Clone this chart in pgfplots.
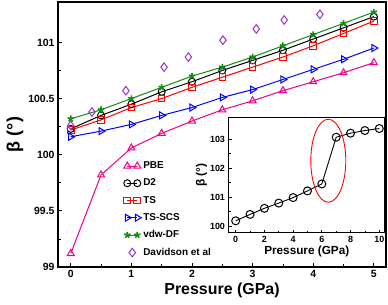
\documentclass[border=0pt]{standalone}
\usepackage{fontspec}
\setmainfont{Liberation Sans}
\usepackage{pgfplots}
\pgfplotsset{compat=1.18}
\definecolor{dvio}{RGB}{150,50,210}
\definecolor{dgreen}{RGB}{20,140,20}
\begin{document}
\begin{tikzpicture}
\path[use as bounding box] (-58bp,-38bp) rectangle (330bp,267bp);
\begin{axis}[
  at={(0,0)}, anchor=south west, scale only axis,
  width=328bp, height=265bp,
  xmin=-0.21, xmax=5.2, ymin=99, ymax=101.36,
  xtick={0,1,2,3,4,5}, ytick={99,99.5,100,100.5,101},
  minor x tick num=1, minor y tick num=1,
  tick align=inside, xtick pos=bottom, ytick pos=left,
  major tick length=4bp, minor tick length=2.5bp,
  axis line style={line width=1.4bp},
  every tick/.style={line width=0.8bp, black},
  /pgf/number format/assume math mode=true,
  tick label style={font=\bfseries\fontsize{10.5}{12}\selectfont},
  xlabel={Pressure (GPa)},
  xlabel style={font=\bfseries\fontsize{16}{18}\selectfont, yshift=2bp},
  ylabel={β (°)},
  ylabel style={font=\bfseries\fontsize{18}{20}\selectfont, yshift=-2bp},
  legend style={draw=none, fill=none, at={(0.2,0.405)}, anchor=north west,
     font=\bfseries\fontsize{10}{12}\selectfont, row sep=4.8bp, inner sep=0pt},
  legend cell align=left,
]
\addplot[magenta, line width=1bp, mark=triangle, mark size=4bp, mark options={solid, line width=1bp},
  legend image code/.code={\draw[mark repeat=2,mark phase=1] plot coordinates {(0bp,0bp)(5bp,0bp)(10bp,0bp)};}]
coordinates {(0,99.12)(0.5,99.82)(1,100.06)(1.5,100.19)(2,100.30)(2.5,100.40)(3,100.48)(3.5,100.57)(4,100.65)(4.5,100.73)(5,100.82)};
\addlegendentry{PBE}
\addplot[black, line width=1bp, mark=o, mark size=3.5bp, mark options={solid, line width=1bp},
  legend image code/.code={\draw[mark repeat=2,mark phase=1] plot coordinates {(0bp,0bp)(5bp,0bp)(10bp,0bp)};}]
coordinates {(0,100.23)(0.5,100.35)(1,100.45)(1.5,100.56)(2,100.65)(2.5,100.75)(3,100.84)(3.5,100.93)(4,101.03)(4.5,101.13)(5,101.23)};
\addlegendentry{D2}
\addplot[red, line width=1bp, mark=square, mark size=3.3bp, mark options={solid, line width=1bp},
  legend image code/.code={\draw[mark repeat=2,mark phase=1] plot coordinates {(0bp,0bp)(5bp,0bp)(10bp,0bp)};}]
coordinates {(0,100.22)(0.5,100.31)(1,100.42)(1.5,100.50)(2,100.60)(2.5,100.69)(3,100.78)(3.5,100.87)(4,100.97)(4.5,101.08)(5,101.19)};
\addlegendentry{TS}
\addplot[blue, line width=1bp, mark=triangle, mark size=4bp, mark options={solid, line width=1bp, rotate=-90},
  legend image code/.code={\draw[mark repeat=2,mark phase=1] plot coordinates {(0bp,0bp)(5bp,0bp)(10bp,0bp)};}]
coordinates {(0,100.16)(0.5,100.21)(1,100.27)(1.5,100.35)(2,100.42)(2.5,100.51)(3,100.58)(3.5,100.67)(4,100.76)(4.5,100.85)(5,100.95)};
\addlegendentry{TS-SCS}
\addplot[dgreen, line width=1bp, mark=star, mark size=3.3bp, mark options={solid, line width=1.6bp},
  legend image code/.code={\draw[mark repeat=2,mark phase=1] plot coordinates {(0bp,0bp)(5bp,0bp)(10bp,0bp)};}]
coordinates {(0,100.32)(0.5,100.40)(1,100.50)(1.5,100.60)(2,100.70)(2.5,100.78)(3,100.87)(3.5,100.97)(4,101.07)(4.5,101.17)(5,101.27)};
\addlegendentry{vdw-DF}
\addplot[dvio, only marks, mark=diamond, mark size=4.3bp, mark options={line width=1bp},
  legend image code/.code={\draw plot coordinates {(5bp,0bp)};}]
coordinates {(0,100.26)(0.35,100.38)(0.91,100.57)(1.54,100.78)(1.94,100.87)(2.51,101.02)(3.06,101.12)(3.52,101.20)(4.11,101.25)};
\addlegendentry{Davidson et al}
\end{axis}
\begin{axis}[
  at={(170.5bp,34.3bp)}, anchor=south west, scale only axis,
  width=156.5bp, height=115.2bp,
  axis background/.style={fill=white},
  xmin=-0.5, xmax=10.4, ymin=99.77, ymax=103.74,
  xtick={0,2,4,6,8,10}, ytick={100,101,102,103},
  minor x tick num=1, minor y tick num=1,
  tick align=inside, xtick pos=bottom, ytick pos=left,
  major tick length=3bp, minor tick length=2bp,
  axis line style={line width=1.2bp},
  every tick/.style={line width=0.7bp, black},
  /pgf/number format/assume math mode=true,
  tick label style={font=\bfseries\fontsize{9}{10}\selectfont},
  xlabel={Pressure (GPa)},
  xlabel style={font=\bfseries\fontsize{11.8}{13}\selectfont, yshift=3bp},
  ylabel={β (°)},
  ylabel style={font=\bfseries\fontsize{12}{14}\selectfont, yshift=-4bp},
]
\addplot[black, line width=0.9bp, mark=o, mark size=4bp, mark options={solid, line width=1bp}]
coordinates {(0,100.18)(1,100.40)(2,100.61)(3,100.79)(4,100.98)(5,101.21)(6,101.45)(7,103.06)(8,103.20)(9,103.29)(10,103.36)};
\draw[red, line width=0.9bp] (axis cs:6.45,102.25) ellipse [x radius=17.5bp, y radius=41.5bp];
\end{axis}
\end{tikzpicture}
\end{document}
